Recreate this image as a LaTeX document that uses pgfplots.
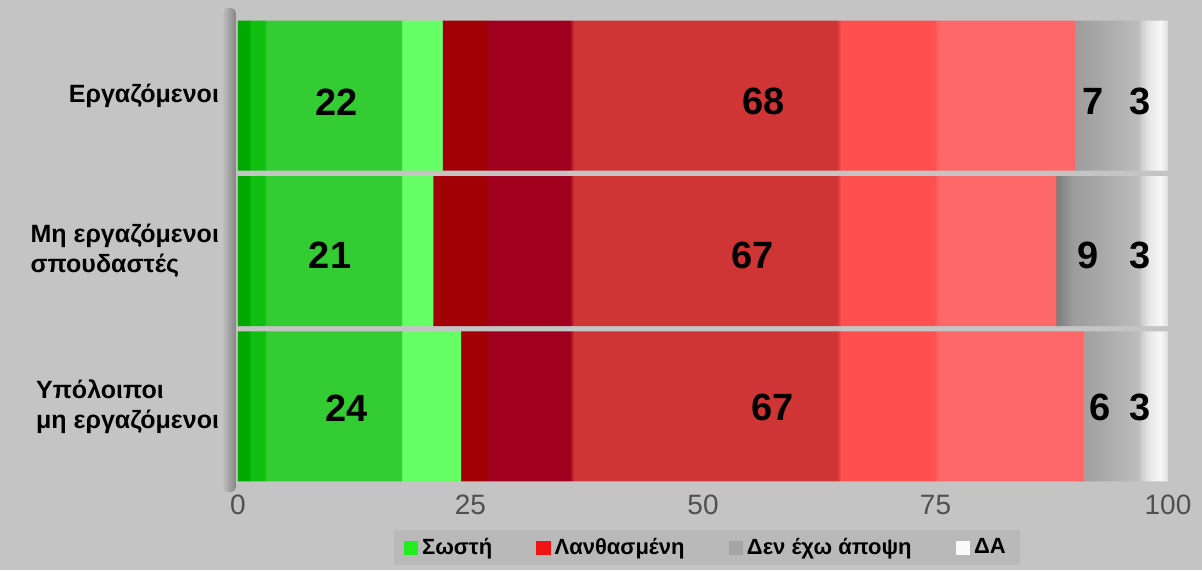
\documentclass[border=0pt]{standalone}
\usepackage{fontspec}
\setmainfont{Liberation Sans}
\usepackage{pgfplots}
\pgfplotsset{compat=1.18}

\definecolor{bg}{HTML}{C4C4C4}
\definecolor{legbg}{HTML}{B9B9B9}
\definecolor{tickgray}{HTML}{505050}
\definecolor{g1}{HTML}{00A800}
\definecolor{g1b}{HTML}{10C010}
\definecolor{g2}{HTML}{33CC33}
\definecolor{g3}{HTML}{66FF66}
\definecolor{r1}{HTML}{A00006}
\definecolor{r2}{HTML}{A0001E}
\definecolor{r3}{HTML}{CF3535}
\definecolor{r4}{HTML}{FF5050}
\definecolor{r5}{HTML}{FF6868}
\definecolor{k1}{HTML}{7C7C7C}
\definecolor{k2}{HTML}{9C9C9C}
\definecolor{k3}{HTML}{ABABAB}
\definecolor{k4}{HTML}{BEBEBE}
\definecolor{w1}{HTML}{CACACA}
\definecolor{w2}{HTML}{E6E6E6}
\definecolor{w3}{HTML}{F8F8F8}
\definecolor{w4}{HTML}{DCDCDC}
\definecolor{legG}{HTML}{22EE22}
\definecolor{legR}{HTML}{EE1414}
\definecolor{legK}{HTML}{A4A4A4}
\definecolor{legW}{HTML}{FAFAFA}
\definecolor{wallA}{HTML}{BDBDBD}
\definecolor{wallB}{HTML}{858585}

\pgfdeclarehorizontalshading{greenbar}{100bp}{color(0bp)=(g1); color(27.5bp)=(g1); color(27.8bp)=(g1b); color(31bp)=(g1b); color(31.3bp)=(g2); color(61.5bp)=(g2); color(61.8bp)=(g3); color(100bp)=(g3)}
\pgfdeclarehorizontalshading{redbar}{100bp}{color(0bp)=(r1); color(29bp)=(r1); color(29.3bp)=(r2); color(35.5bp)=(r2); color(35.8bp)=(r3); color(56bp)=(r3); color(56.3bp)=(r4); color(63.5bp)=(r4); color(63.8bp)=(r5); color(100bp)=(r5)}
\pgfdeclarehorizontalshading{graybar}{100bp}{color(0bp)=(k1); color(25bp)=(k1); color(35bp)=(k2); color(55bp)=(k3); color(75bp)=(k4); color(100bp)=(k4)}
\pgfdeclarehorizontalshading{whitebar}{100bp}{color(0bp)=(w1); color(25bp)=(w1); color(40bp)=(w2); color(62bp)=(w3); color(75bp)=(w4); color(100bp)=(w4)}

\newcommand{\legsq}[1]{\pgfpathrectangle{\pgfpoint{0pt}{-3.6pt}}{\pgfpoint{7.2pt}{7.2pt}}\pgfsetfillcolor{#1}\pgfusepath{fill}}

\begin{document}
\begin{tikzpicture}
\path[use as bounding box] (-119pt,-43pt) rectangle (482pt,242pt);
\fill[bg] (-119pt,-43pt) rectangle (482pt,242pt);
\shade[left color=wallA, right color=wallB, rounded corners=2.5pt] (-7.5pt,-4pt) rectangle (-1pt,238pt);

\begin{axis}[
  at={(0,0)}, anchor=south west,
  scale only axis, width=465pt, height=233pt,
  xbar stacked, bar width=75pt,
  xmin=0, xmax=100, ymin=-0.5, ymax=2.5, y dir=reverse,
  ytick={0,1,2},
  yticklabels={Εργαζόμενοι,{Μη εργαζόμενοι\\ σπουδαστές},{Υπόλοιποι\\μη εργαζόμενοι}},
  yticklabel style={align=left, font=\bfseries\fontsize{12.5}{15}\selectfont, text=black, xshift=-6pt},
  xtick={0,25,50,75,100},
  /pgf/number format/assume math mode=true,
  xticklabel style={text=tickgray, font=\fontsize{14}{14}\selectfont, yshift=-2pt},
  major tick length=0pt,
  axis line style={draw=none},
  legend style={at={(0.504,-0.137)}, anchor=center, legend columns=4,
    fill=legbg, draw=none, font=\bfseries\fontsize{11}{12}\selectfont,
    /tikz/every even column/.append style={column sep=20pt},
    inner xsep=5pt, inner ysep=2pt},
]
\addplot[draw=none, shade, shading=greenbar,
  legend image code/.code={\legsq{legG}}]
  coordinates {(22,0) (21,1) (24,2)};
\addplot[draw=none, shade, shading=redbar,
  legend image code/.code={\legsq{legR}}]
  coordinates {(68,0) (67,1) (67,2)};
\addplot[draw=none, shade, shading=graybar,
  legend image code/.code={\legsq{legK}}]
  coordinates {(7,0) (9,1) (6,2)};
\addplot[draw=none, shade, shading=whitebar,
  legend image code/.code={\legsq{legW}}]
  coordinates {(3,0) (3,1) (3,2)};
\legend{Σωστή, Λανθασμένη, Δεν έχω άποψη, ΔΑ}
\end{axis}

\begin{axis}[
  at={(0,0)}, anchor=south west,
  scale only axis, width=465pt, height=233pt,
  xmin=0, xmax=100, ymin=-0.5, ymax=2.5, y dir=reverse,
  hide axis,
]
\addplot[draw=none, mark=none, nodes near coords, point meta=explicit symbolic,
  every node near coord/.append style={anchor=center, font=\bfseries\fontsize{19}{19}\selectfont, text=black}]
  table[meta=lab] {
x y lab
10.6 0.04 22
56.5 0.04 68
91.9 0.04 7
97.0 0.04 3
9.9 1.03 21
55.3 1.03 67
91.4 1.03 9
97.0 1.03 3
11.7 2.01 24
57.5 2.01 67
92.7 2.01 6
97.0 2.01 3
};
\end{axis}
\end{tikzpicture}
\end{document}
